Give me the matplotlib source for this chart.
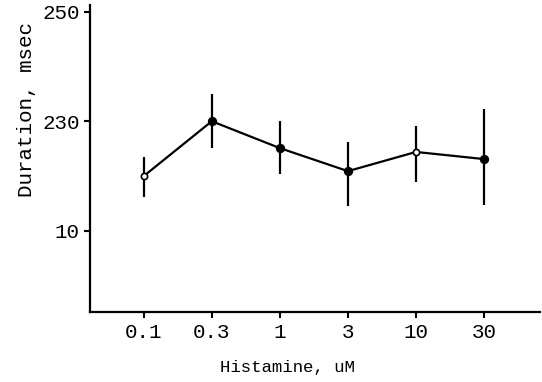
import matplotlib
matplotlib.use("Agg")
import matplotlib.pyplot as plt
import numpy as np

# data
doses = ["0.1", "0.3", "1", "3", "10", "30"]
duration = [220.0, 230.0, 225.1, 220.9, 224.4, 223.1]
err_low = [216.1, 225.1, 220.3, 214.5, 218.9, 214.7]
err_high = [223.5, 234.9, 230.0, 226.2, 229.1, 232.3]
open_marker = [True, False, False, False, True, False]

ytick_vals = [210, 230, 250]
ytick_labels = ["10", "230", "250"]

plt.rcParams['font.family'] = ['Liberation Mono', 'DejaVu Sans Mono']

fig = plt.figure(figsize=(5.42, 3.82), dpi=100)
ax = fig.add_axes([0.166, 0.183, 0.83, 0.804])

x = np.arange(len(doses))
y = np.array(duration)
lo = y - np.array(err_low)
hi = np.array(err_high) - y

ax.plot(x, y, color='black', linewidth=1.6, zorder=2)
ax.errorbar(x, y, yerr=[lo, hi], fmt='none', ecolor='black', elinewidth=1.6, capsize=0, zorder=2)
for xi, yi, op in zip(x, y, open_marker):
    ax.plot(xi, yi, 'o', markersize=4.5 if op else 5.5,
            markerfacecolor='white' if op else 'black', markeredgecolor='black',
            markeredgewidth=1.2, zorder=3)

ax.set_xlim(-0.79, 5.82)
ax.set_ylim(195.2, 251.2)
ax.set_xticks(x)
ax.set_xticklabels(doses, fontsize=15)
ax.set_yticks(ytick_vals)
ax.set_yticklabels(ytick_labels, fontsize=15)
ax.tick_params(axis='both', direction='out', length=4, width=1.5, colors='black')
ax.tick_params(axis='x', pad=4)

for s in ['top', 'right']:
    ax.spines[s].set_visible(False)
for s in ['left', 'bottom']:
    ax.spines[s].set_linewidth(1.6)

ax.set_xlabel("Histamine, uM", fontsize=12.5)
ax.xaxis.set_label_coords(0.44, -0.155)
ax.set_ylabel("Duration, msec", fontsize=15)
ax.yaxis.set_label_coords(-0.12, 0.66)

fig.savefig("out.png", dpi=100)
